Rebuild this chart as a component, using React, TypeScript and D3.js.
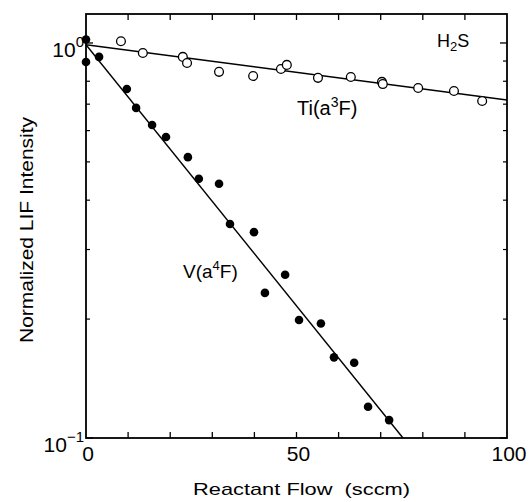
import React from "react";
import * as d3 from "d3";

// Ti(a3F) + H2S, open circles
const tiFlow = [8.3, 13.5, 23.0, 24.0, 31.6, 39.7, 46.3, 47.7, 55.1, 62.9, 70.3, 70.5, 78.9, 87.4, 94.1];
const tiIntensity = [1.01, 0.943, 0.922, 0.89, 0.845, 0.825, 0.859, 0.88, 0.816, 0.82, 0.797, 0.787, 0.769, 0.756, 0.713];

// V(a4F) + H2S, filled circles
const vFlow = [0, 0, 3.1, 9.7, 11.9, 15.7, 19.0, 24.2, 26.8, 31.6, 34.2, 39.9, 42.5, 47.3, 50.6, 55.8, 58.9, 63.7, 67.0, 72.0];
const vIntensity = [1.02, 0.895, 0.922, 0.765, 0.685, 0.62, 0.578, 0.514, 0.453, 0.44, 0.348, 0.332, 0.233, 0.259, 0.199, 0.195, 0.16, 0.155, 0.12, 0.111];

// fitted lines (end points)
const tiFitFlow = [0, 100];
const tiFitIntensity = [0.99, 0.717];
const vFitFlow = [0, 75.3];
const vFitIntensity = [0.99, 0.1];

const xTicks = [10, 20, 30, 40, 50, 60, 70, 80, 90];
const xLabels = [0, 50, 100];
const yMinor = [0.2, 0.3, 0.4, 0.5, 0.6, 0.7, 0.8, 0.9];
const yMajor = [0.1, 1];

const W = 530;
const H = 502;
const left = 86;
const right = 507;
const top = 14;
const bottom = 438;

export default function App() {
  const x = d3.scaleLinear().domain([0, 100]).range([left, right]);
  const y = d3.scaleLog().domain([0.1, 1.184]).range([bottom, top]);
  const line = d3.line<[number, number]>().x(d => x(d[0])).y(d => y(d[1]));

  const tiFit = tiFitFlow.map((f, i) => [f, tiFitIntensity[i]] as [number, number]);
  const vFit = vFitFlow.map((f, i) => [f, vFitIntensity[i]] as [number, number]);

  const font = "'Liberation Sans', Arial, Helvetica, sans-serif";

  return (
    <svg width={W} height={H} style={{ position: "absolute", left: 0, top: 0, background: "#fff" }} fontFamily={font}>
      {/* frame */}
      <rect x={left} y={top} width={right - left} height={bottom - top} fill="none" stroke="#000" strokeWidth={1.8} />

      {/* x ticks, inward on top and bottom */}
      {xTicks.map(t => (
        <g key={"xt" + t} stroke="#000" strokeWidth={1.3}>
          <line x1={x(t)} x2={x(t)} y1={top} y2={top + 6} />
          <line x1={x(t)} x2={x(t)} y1={bottom} y2={bottom - 6} />
        </g>
      ))}
      {/* y ticks, inward on left and right */}
      {yMinor.map(t => (
        <g key={"ym" + t} stroke="#000" strokeWidth={1.2}>
          <line x1={left} x2={left + 4} y1={y(t)} y2={y(t)} />
          <line x1={right} x2={right - 4} y1={y(t)} y2={y(t)} />
        </g>
      ))}
      {yMajor.map(t => (
        <g key={"yM" + t} stroke="#000" strokeWidth={1.3}>
          <line x1={left} x2={left + 7} y1={y(t)} y2={y(t)} />
          <line x1={right} x2={right - 7} y1={y(t)} y2={y(t)} />
        </g>
      ))}

      {/* tick labels */}
      {xLabels.map(t => (
        <text key={"xl" + t} x={x(t) + 2} y={bottom + 23} fontSize={21} textAnchor="middle">{t}</text>
      ))}
      {yMajor.map(t => {
        const e = Math.round(Math.log10(t));
        return (
          <text key={"yl" + t} x={left - 2} y={y(t) + 14} fontSize={21} textAnchor="end">
            10<tspan fontSize={15} dy={-10}>{e === 0 ? "0" : "\u22121"}</tspan>
          </text>
        );
      })}

      {/* axis titles */}
      <text x={193} y={495} fontSize={17} textLength={217} lengthAdjust="spacingAndGlyphs">{"Reactant Flow \u00a0(sccm)"}</text>
      <text transform="translate(33,343) rotate(-90)" fontSize={18} textLength={226} lengthAdjust="spacingAndGlyphs">Normalized LIF Intensity</text>

      {/* fit lines */}
      <path d={line(tiFit) || ""} fill="none" stroke="#000" strokeWidth={1.4} />
      <path d={line(vFit) || ""} fill="none" stroke="#000" strokeWidth={1.4} />

      {/* data */}
      {tiFlow.map((f, i) => (
        <circle key={"ti" + i} cx={x(f)} cy={y(tiIntensity[i])} r={4.4} fill="#fff" stroke="#000" strokeWidth={1.3} />
      ))}
      {vFlow.map((f, i) => (
        <circle key={"v" + i} cx={x(f)} cy={y(vIntensity[i])} r={4.3} fill="#000" />
      ))}

      {/* labels */}
      <text x={437} y={47} fontSize={18}>H<tspan fontSize={13} dy={4}>2</tspan><tspan dy={-4}>S</tspan></text>
      <text x={297} y={115} fontSize={20}>Ti(a<tspan fontSize={14} dy={-8}>3</tspan><tspan dy={8}>F)</tspan></text>
      <text x={183} y={278} fontSize={19}>V(a<tspan fontSize={13} dy={-8}>4</tspan><tspan dy={8}>F)</tspan></text>
    </svg>
  );
}
